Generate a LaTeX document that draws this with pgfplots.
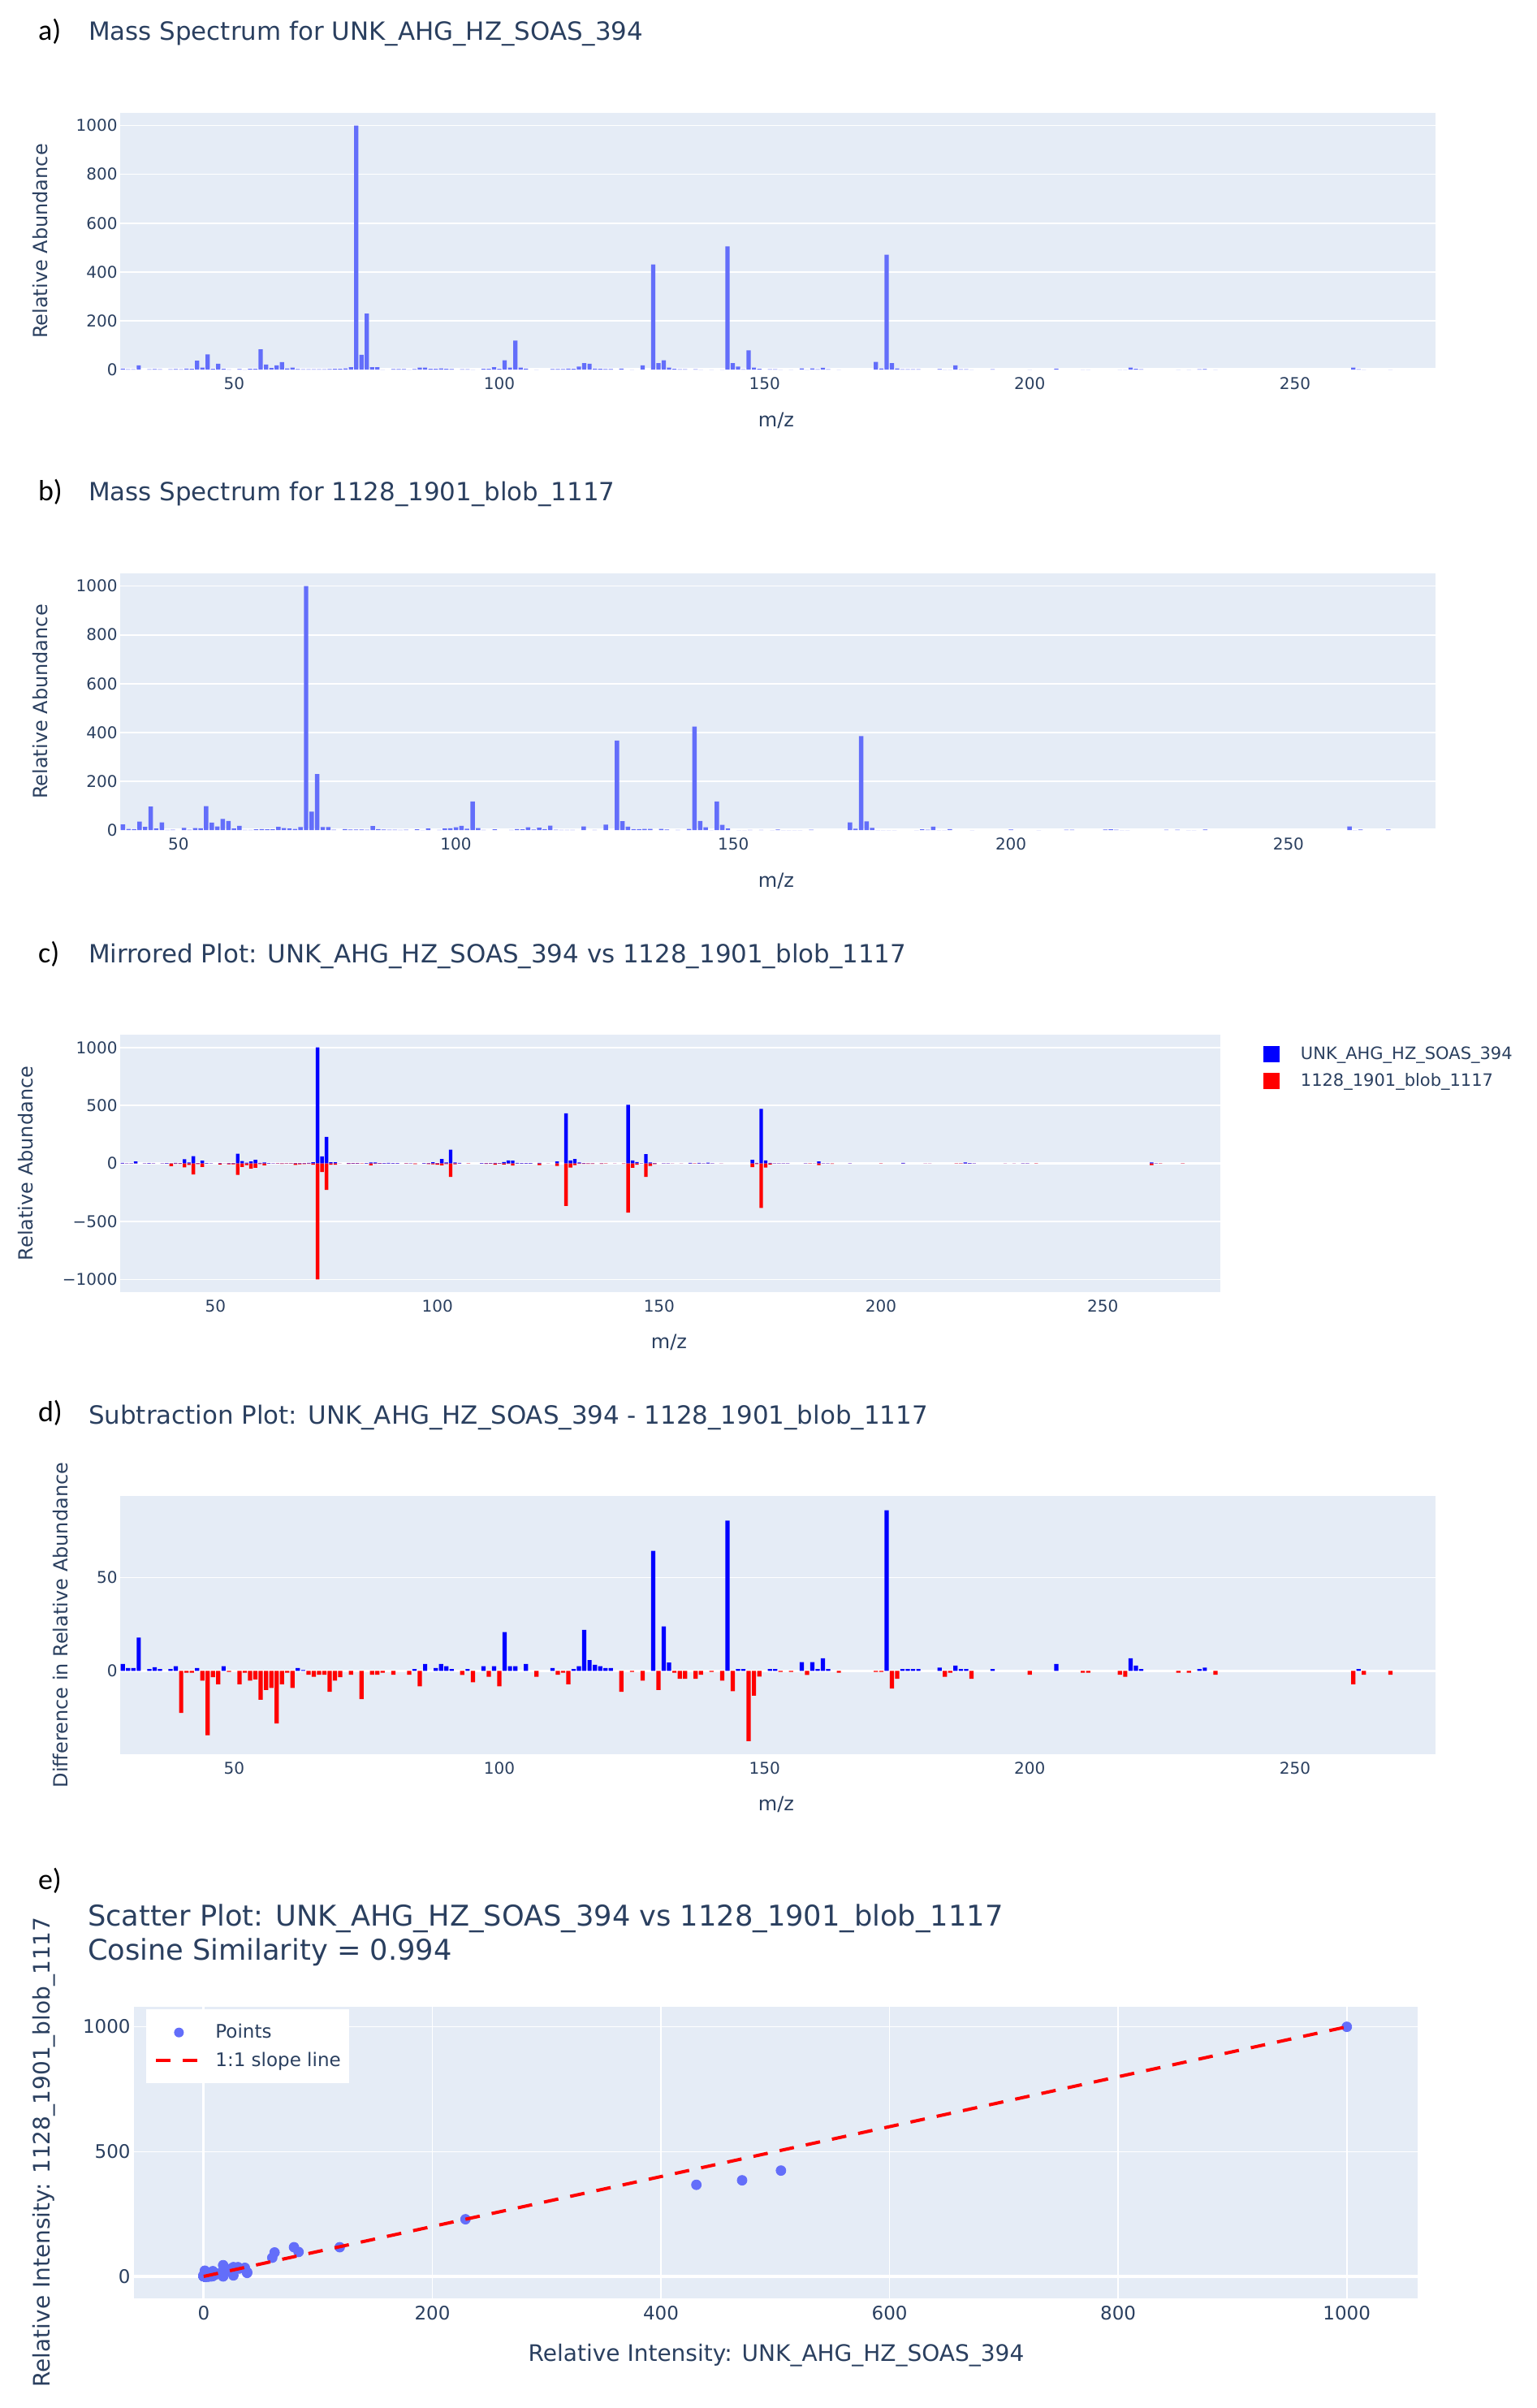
\documentclass[border=0pt]{standalone}
\usepackage{pgfplots}
\pgfplotsset{compat=1.18}
\usepackage{pgfplotstable}
\usepackage{fontspec}
\setmainfont{DejaVu Sans}
\newfontfamily\letterfont{Carlito}
\definecolor{bgc}{HTML}{E5ECF6}
\definecolor{txt}{HTML}{2A3F5F}
\definecolor{barc}{HTML}{636EFA}
\definecolor{pblue}{HTML}{0000FF}
\definecolor{pred}{HTML}{FF0000}

\pgfplotstableread{
mz a b d
29 4 0 3.7
30 1.5 0 1.5
31 1.5 0 1.5
32 17 0 17.8
34 1 0 1
35 2 0 2
36 1 0 1
38 1 0 1
39 2.5 0 2.5
40 1 23 -22.5
41 4 5 -1
42 3 4 -1
43 36 34.5 1.5
44 8 13 -5.2
45 62 96 -34.4
46 3 6 -3.4
47 24 31 -7.2
48 3 0.5 2.5
49 0.5 1 -0.5
51 2 9 -7.2
52 0 1 -1
53 3 8 -5.2
54 3 7.5 -4.6
55 83 98 -15.4
56 20 30 -10.2
57 6 15 -9.1
58 17 45 -28.1
59 30 37 -7.2
60 5 6 -1
61 8 17 -9.1
62 2 0.5 1.5
63 1 0.5 0.5
64 1 3 -2
65 1 4 -3.1
66 1 3 -2
67 1 3 -2
68 2 13 -11.2
69 3 8 -5.2
70 3 6.5 -3.4
71 5 5 0
72 10 12 -2
73 1000 1000 0
74 60 75 -15.1
75 229 229 0
76 10 12 -2
77 10 12 -2
78 0 1 -1
80 2 4 -2
81 2 2 0
82 2 2 0
83 0 2 -2
84 2 1 1
85 8 16 -8.2
86 8 4 3.7
87 3 2 0
88 3 1.5 1.5
89 5 1.5 3.7
90 3 0.5 2.5
91 2 1 1
93 1 3 -2.2
94 1 0 1
95 0 6 -6.1
97 3 0.5 2.5
98 3 6 -3.1
99 10 7.5 2.5
100 3 11 -8.2
101 38 17 20.8
102 8 5.5 2.5
103 119 117 2.5
104 8 8 0
105 4 0.5 3.7
107 0 3 -3.1
110 2 0.5 1.5
111 2 4 -2
112 2 3 -1
113 4 11 -7.2
114 3 2 1
115 12 9.5 2.5
116 26 4 22
117 24 18 5.8
118 4 1 3.3
119 3 0.5 2.5
120 2 0.5 1.5
121 2 0.5 1.5
123 4 15 -11.2
125 0 0.5 -0.5
127 17 22 -5.2
129 431 367 64.2
130 26 36 -10.2
131 38 14 23.8
132 8 3.5 4.5
133 3 4 -1
134 1 5 -4.2
135 1 5 -4.2
137 1 5 -4.2
138 0 2 -2
140 0 0.5 -0.5
142 0 5 -5.2
143 505 424 80.4
144 26 37 -10.9
145 12 11 1
146 1 0 1
147 79 117 -37.6
148 8 21 -13.2
149 3 6 -3
151 1 0 1
152 1 0 1
153 0 0.5 -0.5
155 0 0.5 -0.5
157 4.7 0 4.7
158 0 2 -2.2
159 4.7 0 4.7
160 1 0 1
161 6.7 0 6.7
162 1 0 1
164 0 1 -1
171 31 31.5 -0.5
172 5 5.5 -0.5
173 471 385 86
174 26 35 -9.4
175 5 9 -4.2
176 1 0 1
177 1 0 1
178 1 0 1
179 1 0 1
183 1.8 0 1.8
184 0 3 -3.1
185 0 1 -1
186 17 14 2.8
187 1 0 1
188 1 0 1
189 0 4 -4.2
193 1 0 1
200 0 2 -2
205 3.7 0 3.7
210 0 1 -1
211 0 1 -1
217 0 2 -2
218 0 3 -3.1
219 8 1.3 6.7
220 2.8 0 2.8
221 1 0 1
228 0 1 -1
230 0 1 -1
232 1 0 1
233 1.8 0 1.8
235 0 2 -2
261 8 15 -7.2
262 1 0 1
263 0 2 -2
268 0 2 -2
}\spec

\newcommand{\tickfont}{\fontsize{10pt}{12pt}\selectfont}
\newcommand{\labfont}{\fontsize{12pt}{14pt}\selectfont}
\newcommand{\titfont}{\fontsize{15.45pt}{18pt}\selectfont}
\newcommand{\letfont}{\letterfont\fontsize{18pt}{20pt}\selectfont}

\pgfplotsset{
  plotly/.style={
    scale only axis,
    axis background/.style={fill=bgc},
    axis line style={draw=none},
    tick style={draw=none},
    major tick length=0pt,
    ymajorgrids,
    major grid style={white, line width=0.8pt},
    /pgf/number format/assume math mode=true,
    /pgf/number format/1000 sep={},
    tick label style={font=\tickfont, text=txt, inner sep=0pt},
    yticklabel style={anchor=east, xshift=-1.5pt},
    xticklabel style={anchor=north, yshift=-4.5pt},
    extra y ticks={0},
    extra y tick labels={},
    extra y tick style={grid=major, major grid style={white, line width=1.6pt}},
  },
  specbar/.style={ybar, bar width=0.8, bar shift=0pt, draw=none, fill=#1,
    legend image code/.code={\fill[fill=#1, draw=none] (0pt,-5pt) rectangle (10pt,5pt);}},
}

\begin{document}
\begin{tikzpicture}
\path[use as bounding box] (0,0) rectangle (946pt,-1482.5pt);

% ---------- a ----------
\node[anchor=base west, font=\letfont] at (20pt,-25pt) {a)};
\node[anchor=base west, font=\titfont, text=txt] at (51pt,-25pt) {Mass Spectrum for UNK\_AHG\_HZ\_SOAS\_394};
\begin{axis}[plotly, at={(74pt,-227.5pt)}, anchor=south west, width=810pt, height=158pt,
  xmin=28.5, xmax=276.5, ymin=0, ymax=1052,
  xtick={50,100,...,250}, ytick={0,200,...,1000}]
\addplot[specbar=barc] table[x=mz,y=a]{\spec};
\end{axis}
\node[font=\labfont, text=txt] at (478pt,-259pt) {m/z};
\node[rotate=90, font=\labfont, text=txt] at (25pt,-148.5pt) {Relative Abundance};

% ---------- b ----------
\node[anchor=base west, font=\letfont] at (20pt,-308pt) {b)};
\node[anchor=base west, font=\titfont, text=txt] at (51pt,-308.25pt) {Mass Spectrum for 1128\_1901\_blob\_1117};
\begin{axis}[plotly, at={(74pt,-511pt)}, anchor=south west, width=810pt, height=158pt,
  xmin=39.5, xmax=276.5, ymin=0, ymax=1052,
  xtick={50,100,...,250}, ytick={0,200,...,1000}]
\addplot[specbar=barc] table[x=mz,y=b]{\spec};
\end{axis}
\node[font=\labfont, text=txt] at (478pt,-542.5pt) {m/z};
\node[rotate=90, font=\labfont, text=txt] at (25pt,-432pt) {Relative Abundance};

% ---------- c ----------
\node[anchor=base west, font=\letfont] at (20pt,-592.5pt) {c)};
\node[anchor=base west, font=\titfont, text=txt] at (51pt,-592.75pt) {Mirrored Plot: UNK\_AHG\_HZ\_SOAS\_394 vs 1128\_1901\_blob\_1117};
\begin{axis}[plotly, at={(74pt,-795.5pt)}, anchor=south west, width=677.5pt, height=158.5pt,
  xmin=28.5, xmax=276.5, ymin=-1110, ymax=1110,
  xtick={50,100,...,250}, ytick={-1000,-500,0,500,1000},
  yticklabels={−1000,−500,0,500,1000},
  legend style={at={(axis description cs:1,1)}, anchor=north west, xshift=26.5pt, yshift=-7pt,
    draw=none, fill=none, inner sep=0pt, row sep=6.5pt, column sep=12.75pt,
    font=\fontsize{10.5pt}{12pt}\selectfont, text=txt, nodes={inner sep=0pt}},
  legend cell align=left]
\addplot[specbar=pblue] table[x=mz,y=a]{\spec};
\addplot[specbar=pred] table[x=mz,y expr=-\thisrow{b}]{\spec};
\legend{UNK\_AHG\_HZ\_SOAS\_394, 1128\_1901\_blob\_1117}
\end{axis}
\node[font=\labfont, text=txt] at (412pt,-826.5pt) {m/z};
\node[rotate=90, font=\labfont, text=txt] at (16pt,-716.25pt) {Relative Abundance};

% ---------- d ----------
\node[anchor=base west, font=\letfont] at (20pt,-875pt) {d)};
\node[anchor=base west, font=\titfont, text=txt] at (51pt,-876.7pt) {Subtraction Plot: UNK\_AHG\_HZ\_SOAS\_394 - 1128\_1901\_blob\_1117};
\begin{axis}[plotly, at={(74pt,-1080pt)}, anchor=south west, width=810pt, height=159pt,
  xmin=28.5, xmax=276.5, ymin=-44.6, ymax=93.6,
  xtick={50,100,...,250}, ytick={0,50}]
\addplot[specbar=pblue, restrict y to domain=0.01:200] table[x=mz,y=d]{\spec};
\addplot[specbar=pred, restrict y to domain=-200:-0.01] table[x=mz,y=d]{\spec};
\end{axis}
\node[font=\labfont, text=txt] at (478pt,-1111pt) {m/z};
\node[rotate=90, font=\labfont, text=txt] at (37.5pt,-1000.5pt) {Difference in Relative Abundance};

% ---------- e ----------
\node[anchor=base west, font=\letfont] at (20pt,-1163pt) {e)};
\node[anchor=base west, font=\fontsize{17.6pt}{20pt}\selectfont, text=txt] at (50.5pt,-1185.5pt) {Scatter Plot: UNK\_AHG\_HZ\_SOAS\_394 vs 1128\_1901\_blob\_1117};
\node[anchor=base west, font=\fontsize{17.6pt}{20pt}\selectfont, text=txt] at (50.5pt,-1206.5pt) {Cosine Similarity = 0.994};
\begin{axis}[plotly, at={(82.5pt,-1415pt)}, anchor=south west, width=790.5pt, height=179.5pt,
  xmin=-61, xmax=1062, ymin=-88, ymax=1080,
  clip marker paths=true,
  xtick={0,200,...,1000}, ytick={0,500,1000},
  xmajorgrids,
  extra x ticks={0}, extra x tick labels={},
  extra x tick style={grid=major, major grid style={white, line width=1.6pt}},
  tick label style={font=\fontsize{11.5pt}{13pt}\selectfont},
  yticklabel style={xshift=-0.5pt},
  xticklabel style={yshift=0.2pt},
  legend style={at={(axis description cs:0,1)}, anchor=north west, xshift=7.5pt, yshift=-1.5pt,
    draw=none, fill=white, inner xsep=5pt, inner ysep=9pt, row sep=7pt, column sep=8pt,
    font=\fontsize{11.5pt}{13pt}\selectfont, text=txt, nodes={inner sep=0pt}},
  legend cell align=left]
\addplot[only marks, mark=*, mark size=3pt, color=barc, mark options={draw=none, fill=barc},
  legend image code/.code={\path[draw=none, fill=none] (0pt,-1pt) rectangle (27.5pt,1pt); \fill[barc, draw=none] (14pt,0pt) circle (3pt);}]
  table[x=a,y=b]{\spec};
\addlegendentry{Points}
\addplot[pred, line width=2pt, dash pattern=on 9pt off 7.5pt,
  legend image code/.code={\draw[pred, line width=2pt, dash pattern=on 9pt off 7.5pt] (0pt,0pt) -- (27.5pt,0pt);}]
  coordinates {(0,0) (1000,1000)};
\addlegendentry{1:1 slope line}
\end{axis}
\node[font=\fontsize{14pt}{16pt}\selectfont, text=txt] at (478pt,-1450pt) {Relative Intensity: UNK\_AHG\_HZ\_SOAS\_394};
\node[rotate=90, font=\fontsize{14pt}{16pt}\selectfont, text=txt] at (27pt,-1325pt) {Relative Intensity: 1128\_1901\_blob\_1117};
\end{tikzpicture}
\end{document}
